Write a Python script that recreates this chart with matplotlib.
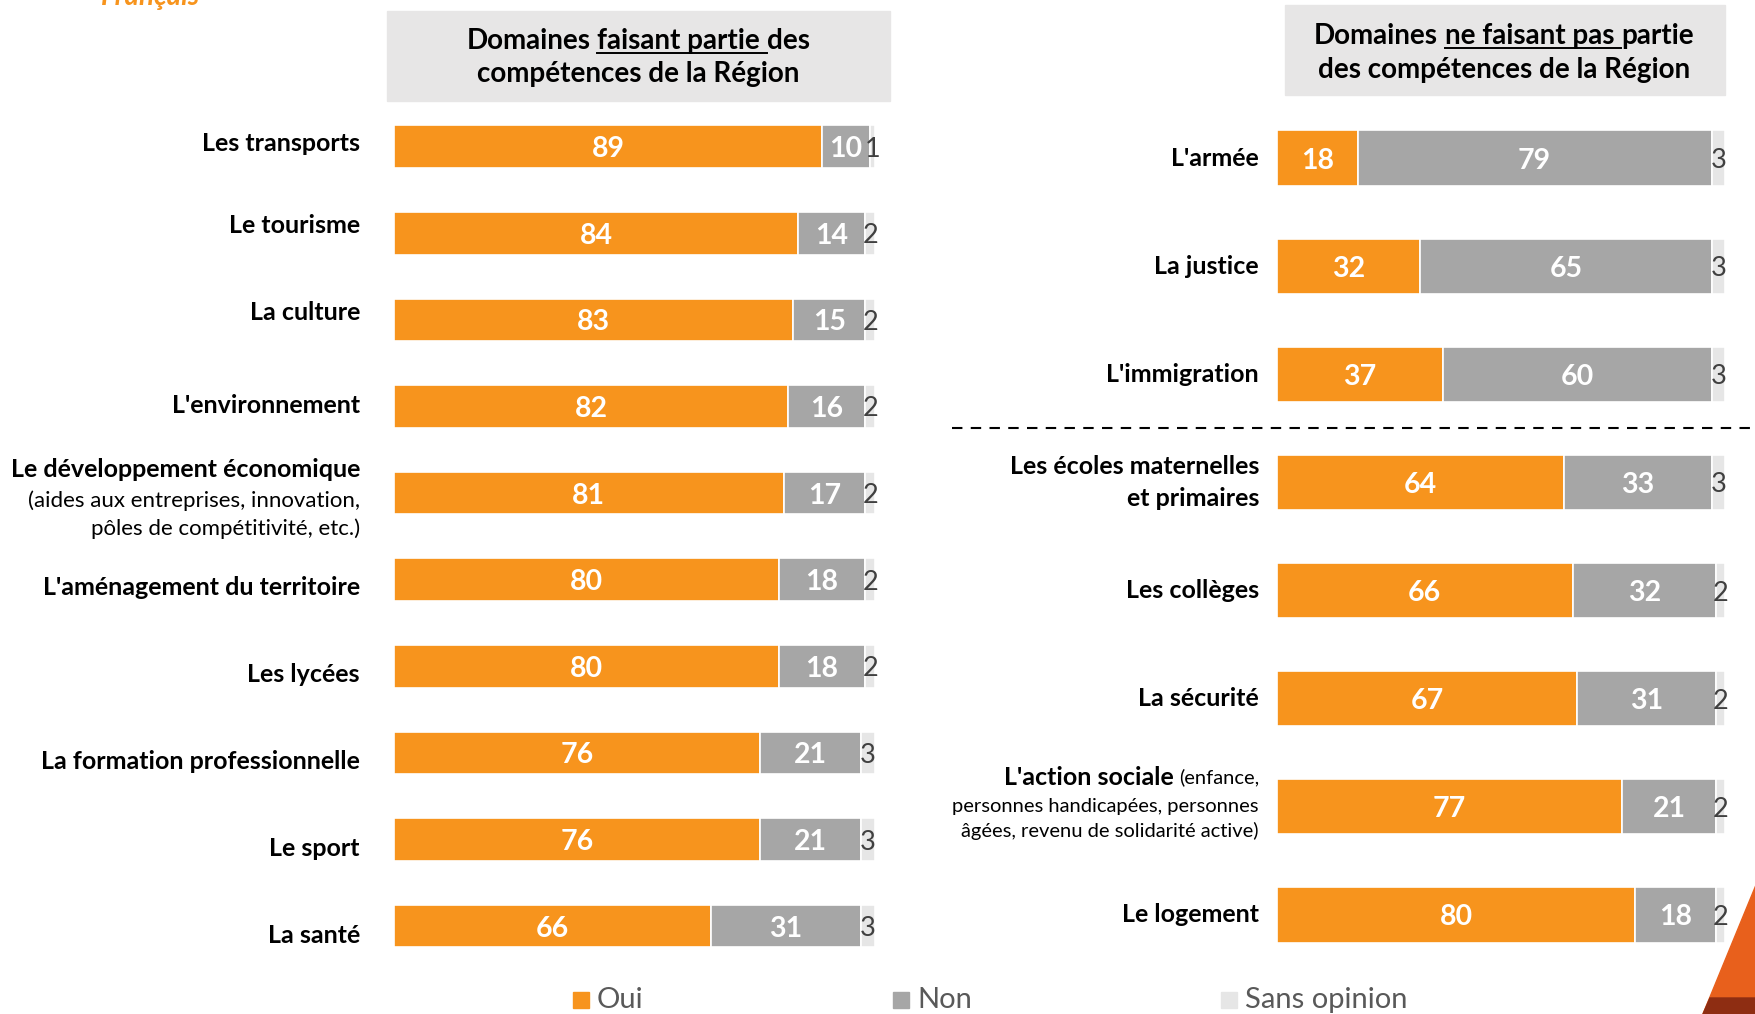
import matplotlib
matplotlib.use("Agg")
import matplotlib.pyplot as plt
from matplotlib.patches import Rectangle, Polygon
from matplotlib.lines import Line2D
from matplotlib import transforms
import numpy as np

plt.rcParams['font.family'] = ['Lato', 'DejaVu Sans']

ORANGE = '#F7941D'
GRIS = '#A6A6A6'
CLAIR = '#E6E6E6'
W, H = 1756, 1014

# domaines faisant partie des competences
dom_in = ["Les transports", "Le tourisme", "La culture", "L'environnement",
          "Le développement économique", "L'aménagement du territoire",
          "Les lycées", "La formation professionnelle", "Le sport", "La santé"]
oui_in = [89, 84, 83, 82, 81, 80, 80, 76, 76, 66]
non_in = [10, 14, 15, 16, 17, 18, 18, 21, 21, 31]
so_in = [1, 2, 2, 2, 2, 2, 2, 3, 3, 3]
sous_dev = "(aides aux entreprises, innovation,\npôles de compétitivité, etc.)"

# domaines ne faisant pas partie
dom_out = ["L'armée", "La justice", "L'immigration",
           "Les écoles maternelles\net primaires", "Les collèges", "La sécurité",
           "L'action sociale", "Le logement"]
oui_out = [18, 32, 37, 64, 66, 67, 77, 80]
non_out = [79, 65, 60, 33, 32, 31, 21, 18]
so_out = [3, 3, 3, 3, 2, 2, 2, 2]
sous_action = "(enfance,"
sous_action2 = "personnes handicapées, personnes\nâgées, revenu de solidarité active)"

legende = ["Oui", "Non", "Sans opinion"]

# petit decalage vertical des etiquettes de gauche (pixels, vers le bas)
decal_in = [-3, -8, -7, -1, 0, 8, 8, 9, 9, 9]

fig = plt.figure(figsize=(W / 100, H / 100), dpi=100)
fig.patch.set_facecolor('white')
r = fig.canvas.get_renderer()


def fx(x):
    return x / W


def fy(y):
    return 1 - y / H


def largeur(s, **kw):
    t = fig.text(0, 0, s, **kw)
    w = t.get_window_extent(r).width
    t.remove()
    return w


def barres(ax, oui, non, so, h, fs):
    oui = np.array(oui); non = np.array(non); so = np.array(so)
    y = np.arange(len(oui))
    ax.barh(y, oui, height=h, color=ORANGE, edgecolor='white', linewidth=1.2)
    ax.barh(y, non, left=oui, height=h, color=GRIS, edgecolor='white', linewidth=1.2)
    ax.barh(y, so, left=oui + non, height=h, color=CLAIR, edgecolor='white', linewidth=1.2)
    for i in y:
        ax.text(oui[i] / 2, i, str(oui[i]), ha='center', va='center_baseline',
                color='white', fontweight='bold', fontsize=fs)
        ax.text(oui[i] + non[i] / 2, i, str(non[i]), ha='center', va='center_baseline',
                color='white', fontweight='bold', fontsize=fs)
        ax.text(oui[i] + non[i] + so[i] / 2, i, str(so[i]), ha='center',
                va='center_baseline', color='#404040', fontsize=fs - 1)
    ax.set_xlim(0, 100)
    ax.set_ylim(len(oui) - 0.5, -0.5)
    ax.axis('off')


ax1 = fig.add_axes([fx(394), fy(969.4), fx(481), 866 / H])
barres(ax1, oui_in, non_in, so_in, 0.49, 20.5)
ax2 = fig.add_axes([fx(1277), fy(969), fx(448), 865 / H])
barres(ax2, oui_out, non_out, so_out, 0.51, 20.5)

LBL = 18
SUB = 16
SUB2 = 14.5

# etiquettes gauche
for i, d in enumerate(dom_in):
    if d.startswith("Le développement"):
        ax1.annotate(d, xy=(0, i), xycoords=('axes fraction', 'data'), xytext=(-34, 24),
                     textcoords='offset pixels', ha='right', va='center',
                     fontsize=LBL, fontweight='bold')
        ax1.annotate(sous_dev, xy=(0, i), xycoords=('axes fraction', 'data'), xytext=(-34, -22),
                     textcoords='offset pixels', ha='right', va='center',
                     fontsize=SUB, linespacing=1.45)
    else:
        ax1.annotate(d, xy=(0, i), xycoords=('axes fraction', 'data'),
                     xytext=(-34, -decal_in[i]), textcoords='offset pixels',
                     ha='right', va='center', fontsize=LBL, fontweight='bold')

# etiquettes droite
for i, d in enumerate(dom_out):
    if d.startswith("L'action"):
        w_enf = largeur(sous_action, fontsize=SUB2)
        esp = largeur("a a", fontsize=SUB2) - largeur("aa", fontsize=SUB2)
        ax2.annotate(sous_action, xy=(0, i), xycoords=('axes fraction', 'data'), xytext=(-18, 31),
                     textcoords='offset pixels', ha='right', va='center_baseline', fontsize=SUB2)
        ax2.annotate(d, xy=(0, i), xycoords=('axes fraction', 'data'),
                     xytext=(-18 - w_enf - esp, 31), textcoords='offset pixels',
                     ha='right', va='center_baseline', fontsize=LBL, fontweight='bold')
        ax2.annotate(sous_action2, xy=(0, i), xycoords=('axes fraction', 'data'), xytext=(-18, -12),
                     textcoords='offset pixels', ha='right', va='center',
                     fontsize=SUB2, linespacing=1.5)
    else:
        ax2.annotate(d, xy=(0, i), xycoords=('axes fraction', 'data'), xytext=(-18, 0),
                     textcoords='offset pixels', ha='right', va='center',
                     fontsize=LBL, fontweight='bold', linespacing=1.45)

# ligne pointillee entre les deux groupes
tr = transforms.blended_transform_factory(fig.transFigure, ax2.transData)
fig.add_artist(Line2D([fx(952), 1.0], [2.5, 2.5], transform=tr, color='black',
                      linewidth=1.5, linestyle=(0, (5, 4))))

# encadres de titre
fig.add_artist(Rectangle((fx(387), fy(101)), fx(503), 90 / H, color='#E7E6E6', zorder=0))
fig.add_artist(Rectangle((fx(1285), fy(95)), fx(440), 90 / H, color='#E7E6E6', zorder=0))

TIT = 20


def ligne_titre(xc, y, mots, yul):
    kw = dict(fontsize=TIT, fontweight='bold')
    esp = largeur("a a", **kw) - largeur("aa", **kw)
    ws = [largeur(m, **kw) for m, _ in mots]
    x = xc - (sum(ws) + esp * (len(mots) - 1)) / 2
    for (m, ul), w in zip(mots, ws):
        fig.text(fx(x), fy(y), m, ha='left', va='baseline', **kw)
        if ul:
            fig.add_artist(Line2D([fx(x), fx(x + w + esp)], [fy(yul), fy(yul)],
                                  color='black', linewidth=1.4))
        x += w + esp


ligne_titre(638, 49, [("Domaines", False), ("faisant partie", True), ("des", False)], 53)
ligne_titre(638, 82, [("compétences de la Région", False)], 0)
ligne_titre(1504, 44, [("Domaines", False), ("ne faisant pas", True), ("partie", False)], 48)
ligne_titre(1504, 78, [("des compétences de la Région", False)], 0)

# legende
couleurs = [ORANGE, GRIS, CLAIR]
xs = [573, 893, 1221]
for lab, c, x in zip(legende, couleurs, xs):
    fig.add_artist(Rectangle((fx(x), fy(1008)), fx(16), 16 / H, color=c))
    fig.text(fx(x + 24), fy(1000), lab, ha='left', va='center', fontsize=21, color='#595959')

# titre coupe en haut a gauche
fig.text(fx(151), fy(5), "Français", ha='center', va='baseline', fontsize=20,
         fontweight='bold', fontstyle='italic', color=ORANGE)

# decor en bas a droite
fig.add_artist(Polygon([(fx(1703), 0), (1, fy(885)), (1, 0)], closed=True,
                       color='#E8601C', zorder=0))
fig.add_artist(Polygon([(fx(1703), 0), (fx(1710), fy(998)), (1, fy(998)), (1, 0)],
                       closed=True, color='#8E2D12', zorder=0))

fig.savefig("out.png", dpi=100)
